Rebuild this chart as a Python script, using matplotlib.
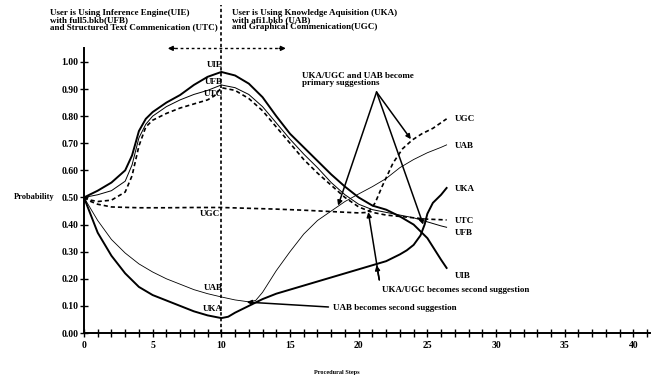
import matplotlib
matplotlib.use("Agg")
import matplotlib.pyplot as plt

plt.rcParams['font.family'] = ['Liberation Serif', 'DejaVu Serif']
plt.rcParams['font.weight'] = 'bold'

# данные кривых
uie_x = [0, 1, 2, 3, 3.5, 4, 4.5, 5, 6, 7, 8, 9, 10, 11, 12, 13, 14, 15, 16, 17, 18, 19, 20, 21, 22, 23, 24, 25, 26, 26.4]
uie_y = [0.50, 0.525, 0.555, 0.60, 0.655, 0.745, 0.79, 0.815, 0.85, 0.878, 0.915, 0.945, 0.963, 0.95, 0.92, 0.87,
         0.80, 0.735, 0.685, 0.635, 0.585, 0.54, 0.50, 0.47, 0.455, 0.43, 0.40, 0.35, 0.27, 0.24]

ufb_x = [0, 1, 2, 3, 3.5, 4, 4.5, 5, 6, 7, 8, 9, 10, 11, 12, 13, 14, 15, 16, 17, 18, 19, 20, 21, 22, 23, 24, 25, 26, 26.4]
ufb_y = [0.50, 0.51, 0.525, 0.56, 0.62, 0.72, 0.77, 0.80, 0.835, 0.86, 0.88, 0.895, 0.915, 0.905, 0.88, 0.835,
         0.775, 0.715, 0.66, 0.61, 0.555, 0.51, 0.475, 0.455, 0.445, 0.435, 0.425, 0.41, 0.395, 0.39]

utc_x = [0, 0.5, 1, 2, 3, 3.5, 4, 4.5, 5, 6, 7, 8, 9, 9.5, 10, 11, 12, 13, 14, 15, 16, 17, 18, 19, 20, 21, 22, 23, 24, 25, 26, 26.4]
utc_y = [0.50, 0.49, 0.485, 0.49, 0.52, 0.58, 0.69, 0.76, 0.785, 0.81, 0.83, 0.845, 0.86, 0.875, 0.905, 0.895, 0.865,
         0.82, 0.76, 0.70, 0.64, 0.59, 0.545, 0.50, 0.465, 0.445, 0.435, 0.43, 0.425, 0.42, 0.418, 0.417]

ugc_x = [0, 0.5, 1, 2, 4, 6, 8, 10, 12, 14, 16, 18, 20, 20.7, 21.2, 21.7, 22.5, 23.2, 23.9, 24.6, 25.4, 26.4]
ugc_y = [0.50, 0.485, 0.475, 0.465, 0.462, 0.462, 0.463, 0.463, 0.46, 0.457, 0.453, 0.448, 0.443, 0.445, 0.48, 0.54,
         0.627, 0.68, 0.712, 0.735, 0.755, 0.79]

uab_x = [0, 1, 2, 3, 4, 5, 6, 7, 8, 9, 10, 11, 12, 12.5, 13, 14, 15, 16, 17, 18, 19, 20, 21, 22, 23, 24, 25, 26, 26.4]
uab_y = [0.50, 0.415, 0.345, 0.295, 0.255, 0.225, 0.20, 0.18, 0.16, 0.145, 0.133, 0.122, 0.115, 0.12, 0.15, 0.23,
         0.30, 0.365, 0.415, 0.45, 0.485, 0.513, 0.54, 0.57, 0.61, 0.64, 0.665, 0.685, 0.694]

uka_x = [0, 1, 2, 3, 4, 5, 6, 7, 8, 9, 10, 10.5, 11, 12, 13, 14, 15, 16, 17, 18, 19, 20, 21, 22, 23, 23.5, 24, 24.5,
         24.8, 25, 25.4, 26, 26.4]
uka_y = [0.50, 0.37, 0.285, 0.22, 0.17, 0.14, 0.12, 0.10, 0.08, 0.065, 0.055, 0.06, 0.075, 0.10, 0.125, 0.145, 0.16,
         0.175, 0.19, 0.205, 0.22, 0.235, 0.25, 0.265, 0.29, 0.305, 0.325, 0.36, 0.40, 0.44, 0.48, 0.51, 0.535]

y_ticks = [0.0, 0.1, 0.2, 0.3, 0.4, 0.5, 0.6, 0.7, 0.8, 0.9, 1.0]
x_ticks = [0, 5, 10, 15, 20, 25, 30, 35, 40]

# подписи кривых: (текст, x, y, выравнивание)
labels = [
    ("UIE", 10.1, 0.99, 'right'), ("UFB", 10.1, 0.925, 'right'), ("UTC", 10.1, 0.88, 'right'),
    ("UGC", 9.9, 0.44, 'right'), ("UAB", 10.1, 0.165, 'right'), ("UKA", 10.1, 0.09, 'right'),
    ("UGC", 27.0, 0.79, 'left'), ("UAB", 27.0, 0.69, 'left'), ("UKA", 27.0, 0.53, 'left'),
    ("UTC", 27.0, 0.415, 'left'), ("UFB", 27.0, 0.37, 'left'), ("UIB", 27.0, 0.21, 'left'),
]

fig = plt.figure(figsize=(6.55, 3.77), dpi=100)
ax = fig.add_axes([0.1282, 0.1167, 0.864, 0.755])

dash = (0, (2.5, 1.8))
ax.plot(uie_x, uie_y, color='black', lw=1.4)
ax.plot(ufb_x, ufb_y, color='black', lw=0.7)
ax.plot(utc_x, utc_y, color='black', lw=1.2, ls=dash)
ax.plot(ugc_x, ugc_y, color='black', lw=1.2, ls=dash)
ax.plot(uab_x, uab_y, color='black', lw=0.6)
ax.plot(uka_x, uka_y, color='black', lw=1.4)

# вертикальная граница на шаге 10
ax.plot([10, 10], [0, 1.21], color='black', lw=1.2, ls=(0, (2, 1.5)), clip_on=False)

# двойная стрелка над графиком
ax.plot([6.2, 14.5], [1.05, 1.05], color='black', lw=1.0, ls=(0, (2, 2)), clip_on=False)
ax.annotate('', xy=(5.9, 1.05), xytext=(6.8, 1.05), annotation_clip=False,
            arrowprops=dict(arrowstyle='-|>', color='black', lw=1.0, mutation_scale=7))
ax.annotate('', xy=(14.9, 1.05), xytext=(14.0, 1.05), annotation_clip=False,
            arrowprops=dict(arrowstyle='-|>', color='black', lw=1.0, mutation_scale=7))

# заголовки над графиком
left_lines = ["User is Using Inference Engine(UIE)", "with full5.bkb(UFB)",
              "and Structured Text Commenication (UTC)"]
right_lines = ["User is Using Knowledge Aquisition (UKA)", "with afi1.bkb (UAB)",
               "and Graphical Commenication(UGC)"]
for i, (l, r) in enumerate(zip(left_lines, right_lines)):
    yy = 1.181 - i * 0.026
    ax.text(-2.5, yy, l, fontsize=6.5, ha='left', va='center', clip_on=False)
    ax.text(10.76, yy, r, fontsize=6.5, ha='left', va='center', clip_on=False)

for t, lx, ly, ha in labels:
    ax.text(lx, ly, t, fontsize=6.5, ha=ha, va='center')

# аннотации со стрелками
arrow = dict(arrowstyle='-|>', color='black', lw=1.1, mutation_scale=7, shrinkA=0, shrinkB=0)
ax.text(15.9, 0.935, "UKA/UGC and UAB become\nprimary suggestions", fontsize=6.5, ha='left', va='center',
        linespacing=0.85)
for px, py in [(18.5, 0.47), (23.8, 0.715), (24.7, 0.40)]:
    ax.annotate('', xy=(px, py), xytext=(21.3, 0.889), arrowprops=arrow)

ax.text(21.7, 0.159, "UKA/UGC becomes second suggestion", fontsize=6.5, ha='left', va='center')
for px, py in [(20.7, 0.446), (21.3, 0.25)]:
    ax.annotate('', xy=(px, py), xytext=(21.5, 0.196), arrowprops=arrow)

ax.text(18.1, 0.092, "UAB becomes second suggestion", fontsize=6.5, ha='left', va='center')
ax.annotate('', xy=(11.85, 0.114), xytext=(17.8, 0.096), arrowprops=arrow)

# подписи осей
ax.text(-3.6, 0.5, "Probability", fontsize=6, ha='center', va='center', clip_on=False)
ax.text(18.4, -0.144, "Procedural Steps", fontsize=4.5, ha='center', va='center', clip_on=False)

# оси
ax.set_xlim(0, 41.2)
ax.set_ylim(0, 1.05)
ax.set_yticks(y_ticks)
ax.set_yticklabels([f"{v:.2f}" for v in y_ticks])
ax.set_xticks(x_ticks)
ax.set_xticklabels([str(v) for v in x_ticks])
ax.set_xticks(range(0, 42), minor=True)
ax.tick_params(axis='both', which='both', direction='inout', length=6, width=1.0, labelsize=7)
ax.tick_params(axis='y', pad=1)
ax.tick_params(axis='x', pad=3)
for s in ['top', 'right']:
    ax.spines[s].set_visible(False)
for s in ['left', 'bottom']:
    ax.spines[s].set_linewidth(1.4)

plt.savefig("out.png", dpi=100)
